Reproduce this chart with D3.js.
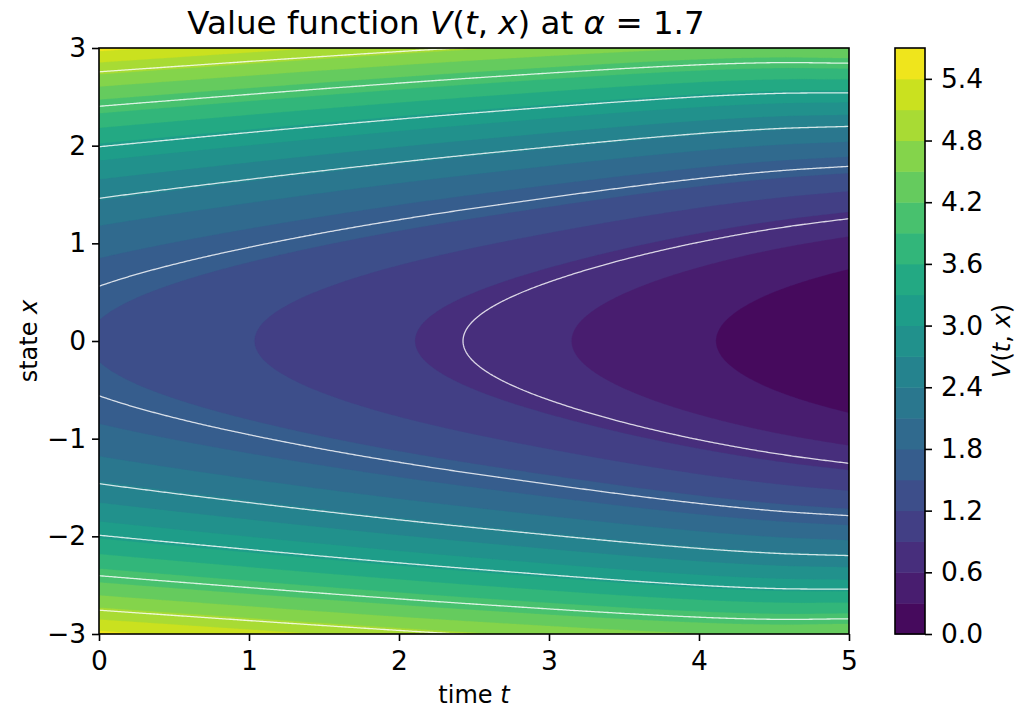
<!DOCTYPE html>
<html><head><meta charset="utf-8">
<script src="https://cdn.jsdelivr.net/npm/d3@7"></script>
<style>
body{margin:0;background:#fff}
svg text{font-family:"DejaVu Sans",sans-serif;fill:#000}
</style>
</head><body>
<svg id="chart" width="1017" height="713"></svg>
<script>
// ---- data ----
const timeKnots  = [0, 1, 2, 3, 4, 4.5, 5];
const curvature  = [0.445, 0.4455, 0.4475, 0.4525, 0.4645, 0.4765, 0.497]; // V ≈ curvature(t)·x² + offset(t)
const offset     = [1.48, 1.21, 0.93, 0.645, 0.335, 0.18, 0.03];
const fillLevels = [0.0,0.3,0.6,0.9,1.2,1.5,1.8,2.1,2.4,2.7,3.0,3.3,3.6,3.9,4.2,4.5,4.8,5.1,5.4,5.7];
const lineLevels = [0.81, 1.62, 2.43, 3.24, 4.05, 4.86];
const tTicks  = [0,1,2,3,4,5];
const xTicks  = [-3,-2,-1,0,1,2,3];
const cbTicks = [0.0,0.6,1.2,1.8,2.4,3.0,3.6,4.2,4.8,5.4];

// ---- smooth (monotone cubic) curve through the read knots ----
function monotoneCurve(xs, ys){
  const n = xs.length, h = [], d = [], mt = new Array(n);
  for (let k=0;k<n-1;k++){ h[k]=xs[k+1]-xs[k]; d[k]=(ys[k+1]-ys[k])/h[k]; }
  mt[0]=d[0]; mt[n-1]=d[n-2];
  for (let k=1;k<n-1;k++){
    if (d[k-1]*d[k] <= 0) mt[k]=0;
    else { const w1=2*h[k]+h[k-1], w2=h[k]+2*h[k-1]; mt[k]=(w1+w2)/(w1/d[k-1]+w2/d[k]); }
  }
  return t=>{
    let k = Math.max(0, Math.min(n-2, d3.bisectRight(xs, t)-1));
    const s=(t-xs[k])/h[k], s2=s*s, s3=s2*s;
    return (2*s3-3*s2+1)*ys[k] + (s3-2*s2+s)*h[k]*mt[k] + (-2*s3+3*s2)*ys[k+1] + (s3-s2)*h[k]*mt[k+1];
  };
}

// ---- layout ----
const svg = d3.select("#chart");
const plot = {left:99, right:849, top:48, bottom:634};
const cb = {left:895, right:925};
const tickFont = 26.5, labelFont = 24, titleFont = 32.5;

const tScale = d3.scaleLinear().domain([0,5]).range([plot.left, plot.right]);
const xScale = d3.scaleLinear().domain([-3,3]).range([plot.bottom, plot.top]);
const P = monotoneCurve(timeKnots, curvature);
const C = monotoneCurve(timeKnots, offset);

// grid slightly larger than the axes, clipped afterwards
const tA = -0.1, tB = 5.1, xA = -3.1, xB = 3.1;
const n = 440, m = 340;
const values = new Float64Array(n*m);
for (let j=0;j<m;j++){
  const x = xB - (j+0.5)/m*(xB-xA);
  for (let i=0;i<n;i++){
    const t = tA + (i+0.5)/n*(tB-tA);
    values[j*n+i] = P(t)*x*x + C(t);
  }
}
const proj = d3.geoTransform({point(gx,gy){
  this.stream.point(tScale(tA + gx/n*(tB-tA)), xScale(xB - gy/m*(xB-xA)));
}});
const path = d3.geoPath(proj);

svg.append("defs").append("clipPath").attr("id","clip")
  .append("rect").attr("x",plot.left).attr("y",plot.top)
  .attr("width",plot.right-plot.left).attr("height",plot.bottom-plot.top);

const nb = fillLevels.length-1;
const bandColor = k => d3.interpolateViridis((k+0.5)/nb);

const g = svg.append("g").attr("clip-path","url(#clip)");
const fills = d3.contours().size([n,m]).thresholds(fillLevels.slice(0,-1))(values);
g.selectAll("path.f").data(fills).join("path").attr("class","f")
  .attr("d",path).attr("fill",d=>bandColor(fillLevels.indexOf(d.value)))
  .attr("stroke",d=>bandColor(fillLevels.indexOf(d.value))).attr("stroke-width",0.3);

const lines = d3.contours().size([n,m]).thresholds(lineLevels)(values);
g.selectAll("path.l").data(lines).join("path").attr("class","l")
  .attr("d",path).attr("fill","none").attr("stroke","#fff")
  .attr("stroke-opacity",0.8).attr("stroke-width",1.3);

// spines
svg.append("rect").attr("x",plot.left).attr("y",plot.top)
  .attr("width",plot.right-plot.left).attr("height",plot.bottom-plot.top)
  .attr("fill","none").attr("stroke","#000").attr("stroke-width",1.6);

// axes
const fmtInt = d3.format("d");
const xAxis = svg.append("g").attr("transform",`translate(0,${plot.bottom})`)
  .call(d3.axisBottom(tScale).tickValues(tTicks).tickFormat(fmtInt).tickSize(7).tickPadding(10).tickSizeOuter(0));
const yAxis = svg.append("g").attr("transform",`translate(${plot.left},0)`)
  .call(d3.axisLeft(xScale).tickValues(xTicks).tickFormat(d=>d<0?"\u2212"+Math.abs(d):String(d)).tickSize(7).tickPadding(6).tickSizeOuter(0));
[xAxis,yAxis].forEach(a=>{
  a.select(".domain").remove();
  a.selectAll(".tick line").attr("stroke","#000").attr("stroke-width",1.6);
  a.selectAll(".tick text").attr("font-size",tickFont).attr("font-family","DejaVu Sans").attr("fill","#000");
});

// colorbar
const cbScale = d3.scaleLinear().domain([fillLevels[0],fillLevels[nb]]).range([plot.bottom,plot.top]);
svg.append("g").selectAll("rect").data(d3.range(nb)).join("rect")
  .attr("x",cb.left).attr("width",cb.right-cb.left)
  .attr("y",k=>cbScale(fillLevels[k+1])).attr("height",k=>cbScale(fillLevels[k])-cbScale(fillLevels[k+1])+0.5)
  .attr("fill",k=>bandColor(k));
svg.append("rect").attr("x",cb.left).attr("y",plot.top).attr("width",cb.right-cb.left)
  .attr("height",plot.bottom-plot.top).attr("fill","none").attr("stroke","#000").attr("stroke-width",1.6);
const cAxis = svg.append("g").attr("transform",`translate(${cb.right},0)`)
  .call(d3.axisRight(cbScale).tickValues(cbTicks).tickFormat(d3.format(".1f")).tickSize(7).tickPadding(9).tickSizeOuter(0));
cAxis.select(".domain").remove();
cAxis.selectAll(".tick line").attr("stroke","#000").attr("stroke-width",1.6);
cAxis.selectAll(".tick text").attr("font-size",tickFont).attr("font-family","DejaVu Sans").attr("fill","#000");

// labels with italic math parts
function richText(sel, parts){
  parts.forEach(([s,it])=>{
    const ts = sel.append("tspan").text(s);
    if(it) ts.attr("font-style","italic");
  });
}
const title = svg.append("text").attr("x",446).attr("y",34)
  .attr("text-anchor","middle").attr("font-size",titleFont);
richText(title,[["Value function ",0],["V",1],["(",0],["t",1],[", ",0],["x",1],[")",0],[" at ",0],["α",1],[" = 1.7",0]]);

const xl = svg.append("text").attr("x",(plot.left+plot.right)/2).attr("y",703)
  .attr("text-anchor","middle").attr("font-size",labelFont);
richText(xl,[["time ",0],["t",1]]);

const yl = svg.append("text").attr("transform",`translate(37,${(plot.top+plot.bottom)/2}) rotate(-90)`)
  .attr("text-anchor","middle").attr("font-size",labelFont);
richText(yl,[["state ",0],["x",1]]);

const cl = svg.append("text").attr("transform",`translate(1010,${(plot.top+plot.bottom)/2}) rotate(-90)`)
  .attr("text-anchor","middle").attr("font-size",labelFont);
richText(cl,[["V",1],["(",0],["t",1],[", ",0],["x",1],[")",0]]);
</script>
</body></html>
